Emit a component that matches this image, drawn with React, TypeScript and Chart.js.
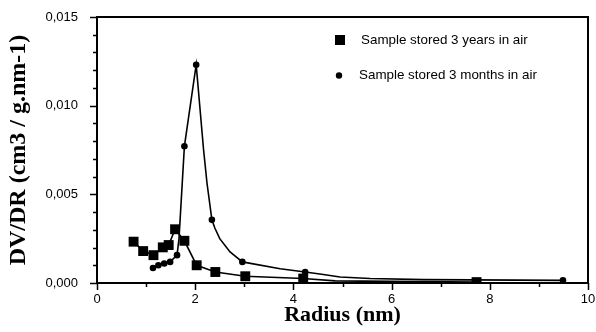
import React, { useEffect, useRef } from 'react';
import { Chart, registerables } from 'chart.js';

Chart.register(...registerables);

// Tick labels
const xTickLabels = ['0', '2', '4', '6', '8', '10'];
const yTickLabels = ['0,000', '0,005', '0,010', '0,015'];

// Series 1: sample stored 3 years in air (marked points)
const yearsR = [0.745, 0.94, 1.15, 1.34, 1.46, 1.59, 1.78, 2.03, 2.41, 3.02, 4.2, 7.73];
const yearsDV = [0.00233, 0.0018, 0.00157, 0.00201, 0.00214, 0.00303, 0.00238, 0.001, 0.00062, 0.00038, 0.00025, 0.00005];
// unmarked points
const yearsTraceR = [4.85];
const yearsTraceDV = [0.00012];

// Series 2: sample stored 3 months in air (marked points)
const monthsR = [1.14, 1.25, 1.37, 1.49, 1.63, 1.78, 2.02, 2.34, 2.96, 4.24, 9.49];
const monthsDV = [0.00085, 0.001, 0.0011, 0.00119, 0.00157, 0.00771, 0.01231, 0.00356, 0.00119, 0.00062, 0.00015];
// unmarked points
const monthsTraceR = [1.67, 2.17, 2.24, 2.4, 2.5, 2.71, 3.73, 4.61, 4.95, 5.56, 6.65];
const monthsTraceDV = [0.0025, 0.00753, 0.00564, 0.0031, 0.0025, 0.00175, 0.0008, 0.00048, 0.00034, 0.00025, 0.00019];

const legendLabels = ['Sample stored 3 years in air', 'Sample stored 3 months in air'];

const toPoints = (xs: number[], ys: number[]) => xs.map((x, i) => ({ x, y: ys[i] }));
const curve = (xs: number[], ys: number[], tx: number[], ty: number[]) =>
  [...toPoints(xs, ys), ...toPoints(tx, ty)].sort((a, b) => a.x - b.x);

const framePlugin = {
  id: 'frameTicks',
  beforeDatasetsDraw(chart: any) {
    const { ctx, chartArea: a, scales } = chart;
    const xs = scales.x;
    const ys = scales.y;
    ctx.save();
    ctx.strokeStyle = '#000';
    ctx.lineWidth = 2;
    ctx.strokeRect(a.left, a.top, a.right - a.left, a.bottom - a.top);
    ctx.lineWidth = 1.5;
    ctx.beginPath();
    for (let i = 0; i <= 15; i++) {
      const py = Math.round(ys.getPixelForValue(i * 0.001)) + 0.5;
      const len = i % 5 === 0 ? 7 : 4;
      ctx.moveTo(a.left - len, py);
      ctx.lineTo(a.left, py);
    }
    for (let i = 0; i <= 10; i++) {
      const px = Math.round(xs.getPixelForValue(i)) + 0.5;
      const len = i % 2 === 0 ? 7 : 4;
      ctx.moveTo(px, a.bottom);
      ctx.lineTo(px, a.bottom + len);
    }
    ctx.stroke();
    ctx.restore();
  },
  afterDraw(chart: any) {
    const { ctx } = chart;
    ctx.save();
    ctx.fillStyle = '#000';
    ctx.font = '13.4px "Liberation Sans", Arial, sans-serif';
    ctx.textBaseline = 'middle';
    ctx.textAlign = 'left';
    // square marker
    ctx.fillRect(335, 35, 10, 10);
    ctx.fillText(legendLabels[0], 361, 40.5);
    // circle marker
    ctx.beginPath();
    ctx.arc(339, 75.5, 3.2, 0, Math.PI * 2);
    ctx.fill();
    ctx.fillText(legendLabels[1], 359, 75.5);
    ctx.restore();
  },
};

export default function App() {
  const ref = useRef<HTMLCanvasElement>(null);
  useEffect(() => {
    if (!ref.current) return;
    const chart = new Chart(ref.current, {
      type: 'scatter',
      data: {
        datasets: [
          {
            label: legendLabels[0] + ' curve',
            data: curve(yearsR, yearsDV, yearsTraceR, yearsTraceDV),
            showLine: true,
            borderColor: '#000',
            borderWidth: 1.6,
            pointRadius: 0,
            tension: 0,
          },
          {
            label: legendLabels[1] + ' curve',
            data: curve(monthsR, monthsDV, monthsTraceR, monthsTraceDV),
            showLine: true,
            borderColor: '#000',
            borderWidth: 1.6,
            pointRadius: 0,
            tension: 0,
          },
          {
            label: legendLabels[0],
            data: toPoints(yearsR, yearsDV),
            showLine: false,
            pointStyle: 'rect',
            pointRadius: 7,
            backgroundColor: '#000',
            borderColor: '#000',
            borderWidth: 0,
          },
          {
            label: legendLabels[1],
            data: toPoints(monthsR, monthsDV),
            showLine: false,
            pointStyle: 'circle',
            pointRadius: 3.3,
            backgroundColor: '#000',
            borderColor: '#000',
            borderWidth: 0,
          },
        ],
      },
      options: {
        animation: false,
        responsive: false,
        events: [],
        layout: { padding: { top: 17, right: 8, left: 0, bottom: 0 } },
        plugins: {
          legend: { display: false },
          tooltip: { enabled: false },
        },
        scales: {
          x: {
            type: 'linear',
            min: 0,
            max: 10,
            afterFit: (s: any) => {
              s.height = 49;
              s.paddingLeft = 0;
              s.paddingRight = 0;
            },
            grid: { display: false, drawTicks: false },
            border: { display: false },
            ticks: {
              stepSize: 2,
              padding: 9,
              color: '#000',
              font: { family: '"Liberation Sans", Arial, sans-serif', size: 13 },
              callback: (_v: any, i: number) => xTickLabels[i],
            },
            title: {
              display: true,
              text: 'Radius (nm)',
              color: '#000',
              font: { family: '"Liberation Serif", "Times New Roman", serif', size: 22, weight: 'bold' },
              padding: { top: 0, bottom: 3 },
            },
          },
          y: {
            type: 'linear',
            min: 0,
            max: 0.015,
            afterFit: (s: any) => {
              s.width = 97;
              s.paddingTop = 0;
              s.paddingBottom = 0;
            },
            grid: { display: false, drawTicks: false },
            border: { display: false },
            ticks: {
              stepSize: 0.005,
              padding: 19,
              color: '#000',
              font: { family: '"Liberation Sans", Arial, sans-serif', size: 13 },
              callback: (_v: any, i: number) => yTickLabels[i],
            },
            title: {
              display: true,
              text: 'DV/DR (cm3 / g.nm-1)',
              color: '#000',
              font: { family: '"Liberation Serif", "Times New Roman", serif', size: 24, weight: 'bold' },
              padding: { top: 4, bottom: 0 },
            },
          },
        },
      },
      plugins: [framePlugin],
    });
    return () => chart.destroy();
  }, []);
  return (
    <div style={{ position: 'fixed', left: 0, top: 0, width: 596, height: 332, background: '#fff' }}>
      <canvas ref={ref} width={596} height={332} style={{ width: 596, height: 332, display: 'block' }} />
    </div>
  );
}
